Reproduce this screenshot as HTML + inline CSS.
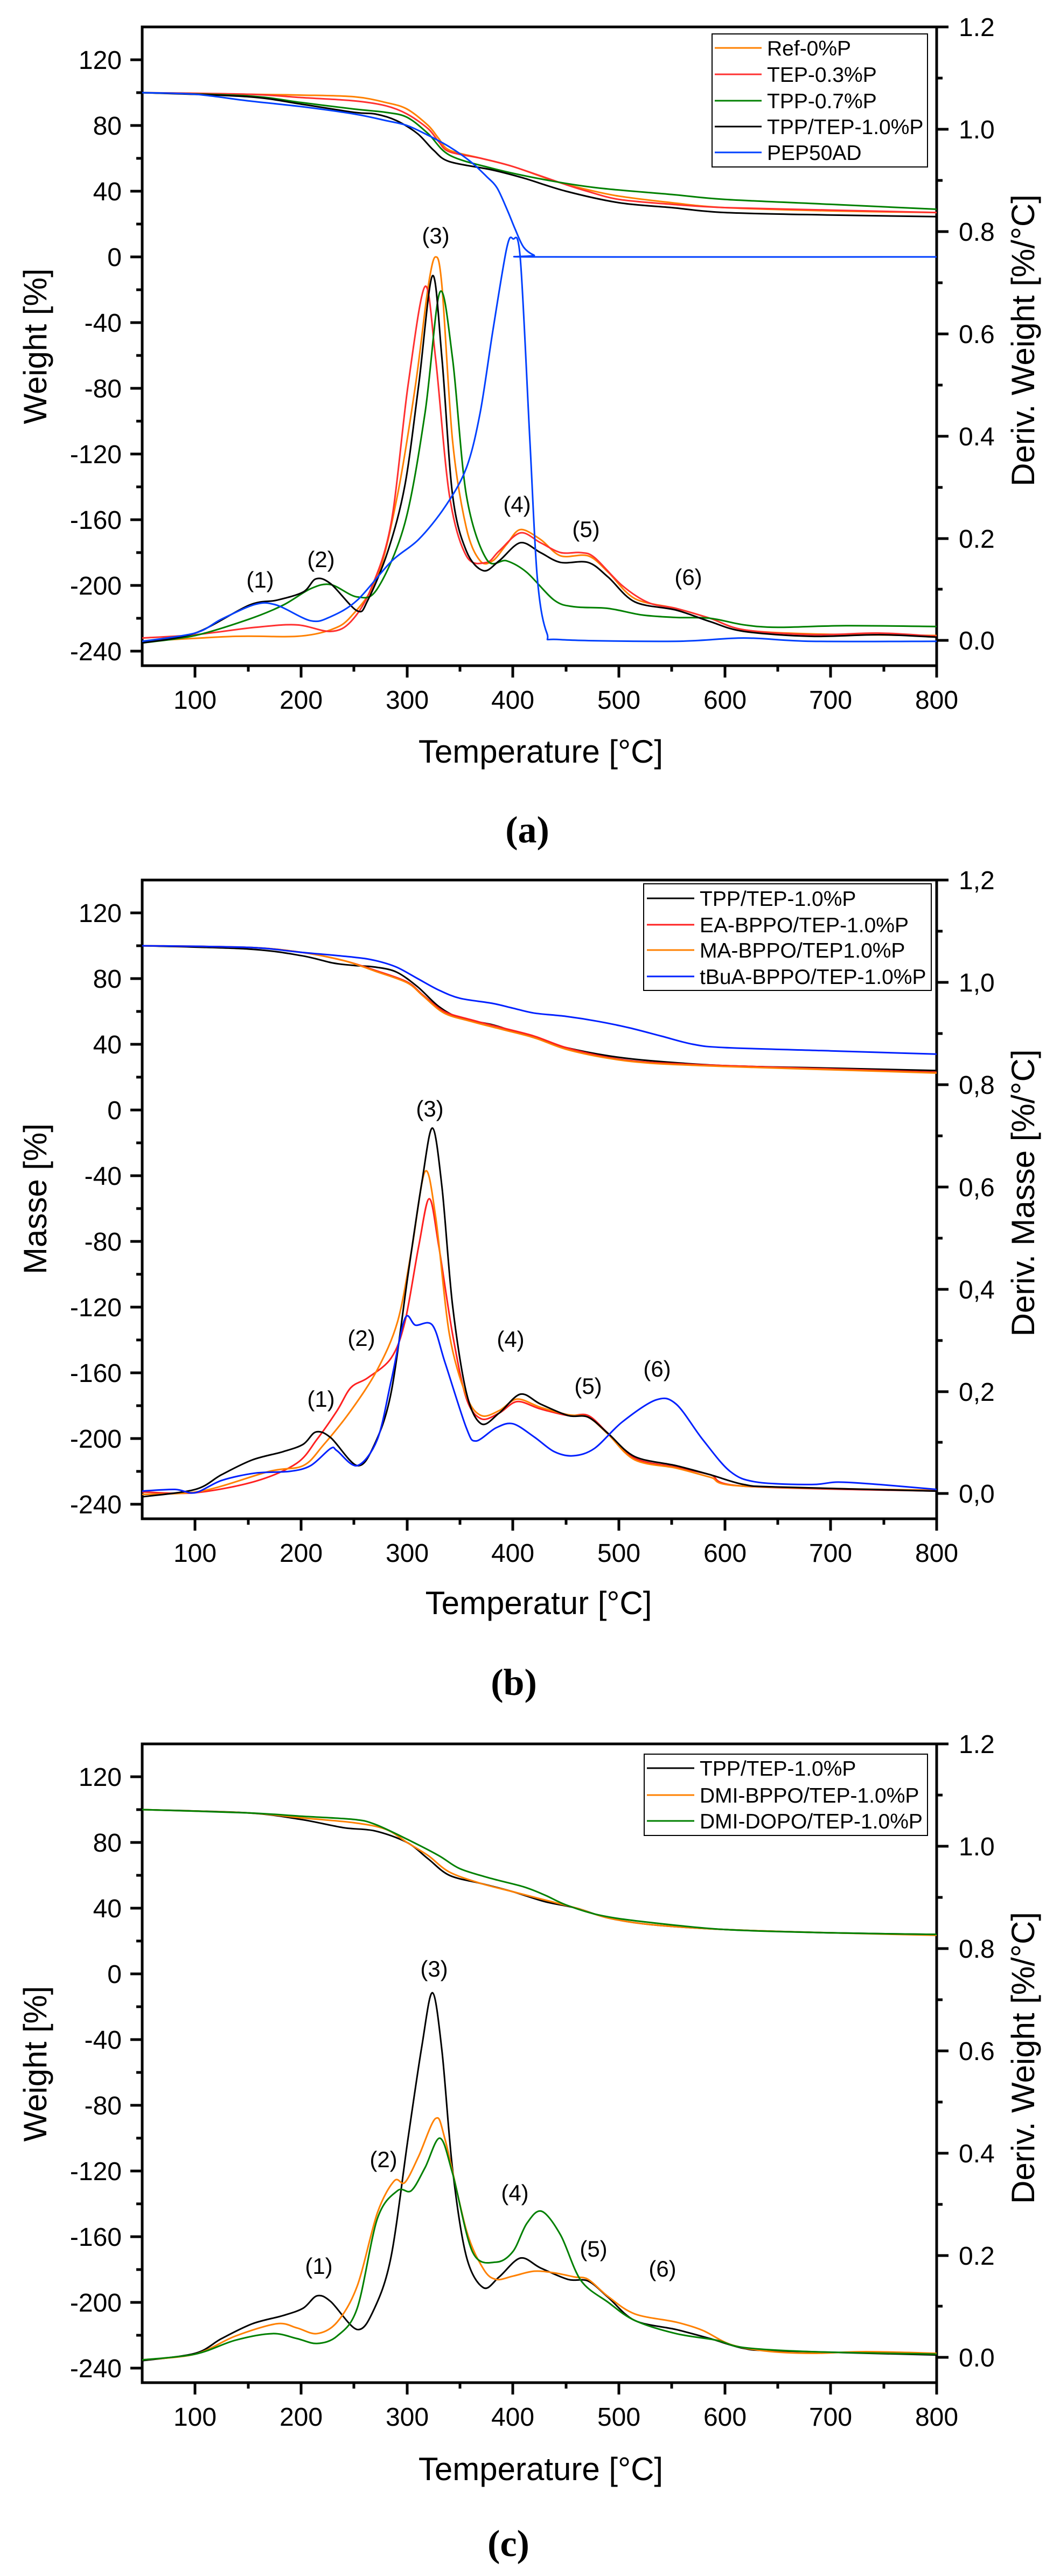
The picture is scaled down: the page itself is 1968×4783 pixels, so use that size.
<!DOCTYPE html>
<html><head><meta charset="utf-8"><style>
html,body{margin:0;padding:0;background:#fff;}
svg{display:block;}
text{font-family:"Liberation Sans",Arial,sans-serif;fill:#000;}
.tl{font-size:48px;}
.ti{font-size:60px;}
.lg{font-size:39px;}
.an{font-size:42px;}
.cap{font-family:"Liberation Serif",serif;font-weight:bold;font-size:70px;}
.d path{fill:none;stroke-width:3;vector-effect:non-scaling-stroke;stroke-linejoin:round;}
</style></head><body>
<svg width="1968" height="4783" viewBox="0 0 1968 4783" xmlns="http://www.w3.org/2000/svg">
<defs>
<clipPath id="cp"><rect x="264" y="50" width="1475" height="1186"/></clipPath>
<g id="axes">
<path d="M264,50 H1739 V1236 H264 Z" fill="none" stroke="#000" stroke-width="5"/>
<path d="M242,111H264M242,233H264M242,355H264M242,477H264M242,599H264M242,721H264M242,843H264M242,965H264M242,1087H264M242,1209H264" stroke="#000" stroke-width="5"/>
<path d="M253,172H264M253,294H264M253,416H264M253,538H264M253,660H264M253,782H264M253,904H264M253,1026H264M253,1148H264" stroke="#000" stroke-width="5"/>
<path d="M1739,50H1761M1739,240H1761M1739,430H1761M1739,620H1761M1739,810H1761M1739,1000H1761M1739,1189H1761" stroke="#000" stroke-width="5"/>
<path d="M1739,145H1750M1739,335H1750M1739,525H1750M1739,715H1750M1739,905H1750M1739,1094H1750" stroke="#000" stroke-width="5"/>
<path d="M362,1236V1258M559,1236V1258M756,1236V1258M952,1236V1258M1149,1236V1258M1346,1236V1258M1542,1236V1258M1739,1236V1258" stroke="#000" stroke-width="5"/>
<path d="M461,1236V1247M657,1236V1247M854,1236V1247M1051,1236V1247M1247,1236V1247M1444,1236V1247M1641,1236V1247" stroke="#000" stroke-width="5"/>
<g class="tl" text-anchor="end">
<text x="226" y="128">120</text><text x="226" y="250">80</text><text x="226" y="372">40</text><text x="226" y="494">0</text><text x="226" y="616">-40</text><text x="226" y="738">-80</text><text x="226" y="860">-120</text><text x="226" y="982">-160</text><text x="226" y="1104">-200</text><text x="226" y="1226">-240</text>
</g>
<g class="tl" text-anchor="middle">
<text x="362" y="1316">100</text><text x="559" y="1316">200</text><text x="756" y="1316">300</text><text x="952" y="1316">400</text><text x="1149" y="1316">500</text><text x="1346" y="1316">600</text><text x="1542" y="1316">700</text><text x="1739" y="1316">800</text>
</g>
</g>
</defs>

<!-- ===== Panel (a) ===== -->
<g>
<use href="#axes"/>
<g class="tl">
<text x="1780" y="67">1.2</text><text x="1780" y="257">1.0</text><text x="1780" y="447">0.8</text><text x="1780" y="637">0.6</text><text x="1780" y="827">0.4</text><text x="1780" y="1017">0.2</text><text x="1780" y="1206">0.0</text>
</g>
<text class="ti" x="1004" y="1416" text-anchor="middle">Temperature [°C]</text>
<text class="ti" transform="translate(86,643) rotate(-90)" text-anchor="middle">Weight [%]</text>
<text class="ti" transform="translate(1920,632) rotate(-90)" text-anchor="middle">Deriv. Weight [%/°C]</text>
<g clip-path="url(#cp)">
<g class="d" transform="matrix(1.9667,0,0,-3.05,165.67,477)">
<path stroke="#ff8000" d="M50,100L150,99L200,98.5L250,97.5L280,94L300,90L320,80L330,72L340,65L370,60L400,55L440,46L470,41L500,37L550,33L600,30L700,28L800,27"/>
<path stroke="#ff3030" d="M50,100L150,99L200,97L250,95L280,92L300,87L320,78L330,70L340,64L370,60L400,55L450,44L470,40L500,35L550,32L600,30L700,28.5L800,27"/>
<path stroke="#008000" d="M50,100L150,98L200,94L250,90L280,88L300,85L320,75L340,62L380,54L430,47L480,42L550,38L600,35L700,32L800,29"/>
<path stroke="#000" d="M50,100L150,97.5L200,93L250,88L270,87L290,83L310,75L325,65L340,58L380,53L410,48L450,40L500,33L550,30L600,27L700,25.5L800,24.5"/>
<path stroke="#0040ff" d="M50,100L100,99L150,95L200,91.5L250,87L280,83L300,80L320,74L340,67L360,58L375,49L385,42L395,28L402,17L410,6L420,1L430,0L800,0"/>
<path stroke="#ff8000" d="M50,-234L138,-231L196,-231L228,-227L247,-219L272,-195L291,-145L308,-78L320,-18L327,0L333,-18L343,-112L356,-165L369,-185L381,-185L394,-175L407,-166L426,-172L445,-182L471,-182L490,-192L515,-208L554,-214L586,-220L618,-227L682,-229.5L800,-230.5"/>
<path stroke="#ff3030" d="M50,-232L100,-230L157,-225.5L196,-224L228,-228L247,-222L266,-202L285,-162L301,-78L317,-18L327,-62L340,-145L356,-182L375,-186L387,-179L407,-168L426,-174L445,-180L464,-180L477,-183L503,-200L528,-210.5L554,-214L586,-220L618,-227L682,-230L746,-229L800,-231"/>
<path stroke="#008000" d="M50,-235L100,-230.5L151,-220.5L183,-212L209,-202L228,-199.5L253,-207L272,-202L298,-162L317,-95L331,-21.5L343,-62L356,-145L375,-184L394,-185L413,-192L439,-209L458,-213L490,-214L522,-218L554,-219.5L586,-220L618,-224L650,-225.5L714,-224.5L800,-225"/>
<path stroke="#000" d="M50,-235L100,-229L151,-212L177,-209L202,-204L214,-196L228,-199L253,-215.5L263,-209L282,-179L298,-139L311,-78L324,-11.5L333,-62L343,-145L356,-179L372,-191L387,-185L407,-174L426,-180L445,-186L471,-186L490,-195L515,-210L554,-215L586,-222L618,-228L682,-231L746,-230L800,-231.5"/>
<path stroke="#0040ff" d="M50,-234L100,-229L125,-220.5L157,-211.5L177,-212L209,-221.5L228,-219L253,-209L285,-185.5L311,-172L336,-152L356,-128.5L369,-95L381,-45L394,5L400,11L407,-1.5L416,-112L423,-195.5L432,-229L445,-233L554,-234L618,-232L682,-234L800,-234"/>
</g>
</g>
<rect x="1322" y="63" width="400" height="247" fill="#fff" stroke="#000" stroke-width="2"/>
<g stroke-width="3">
<line x1="1327" y1="89" x2="1414" y2="89" stroke="#ff8000"/>
<line x1="1327" y1="138" x2="1414" y2="138" stroke="#ff3030"/>
<line x1="1327" y1="187" x2="1414" y2="187" stroke="#008000"/>
<line x1="1327" y1="235" x2="1414" y2="235" stroke="#000"/>
<line x1="1327" y1="283" x2="1414" y2="283" stroke="#0040ff"/>
</g>
<g class="lg"><text x="1424" y="103">Ref-0%P</text><text x="1424" y="152">TEP-0.3%P</text><text x="1424" y="201">TPP-0.7%P</text><text x="1424" y="249">TPP/TEP-1.0%P</text><text x="1424" y="297">PEP50AD</text></g>
<g class="an" text-anchor="middle"><text x="483" y="1091">(1)</text><text x="596" y="1053">(2)</text><text x="809" y="452">(3)</text><text x="960" y="951">(4)</text><text x="1088" y="997">(5)</text><text x="1278" y="1086">(6)</text></g>
<text class="cap" x="979" y="1564" text-anchor="middle">(a)</text>
</g>

<!-- ===== Panel (b) ===== -->
<g transform="translate(0,1584)">
<use href="#axes"/>
<g class="tl">
<text x="1780" y="67">1,2</text><text x="1780" y="257">1,0</text><text x="1780" y="447">0,8</text><text x="1780" y="637">0,6</text><text x="1780" y="827">0,4</text><text x="1780" y="1017">0,2</text><text x="1780" y="1206">0,0</text>
</g>
<text class="ti" x="1000" y="1413" text-anchor="middle">Temperatur [°C]</text>
<text class="ti" transform="translate(86,642) rotate(-90)" text-anchor="middle">Masse [%]</text>
<text class="ti" transform="translate(1920,631) rotate(-90)" text-anchor="middle">Deriv. Masse [%/°C]</text>
<g clip-path="url(#cp)">
<g class="d" transform="matrix(1.9667,0,0,-3.05,165.67,477)">
<path stroke="#000" d="M50,100L150,98L200,94L230,89.5L250,88L270,87L290,84L310,75L330,63L350,56L380,52L400,48L430,42L450,38L490,33L530,30L600,27L700,25.5L800,24"/>
<path stroke="#ff2020" d="M50,100L150,99L200,96L240,91L270,85L300,78L315,70L335,60L360,55L390,50L420,45L450,38L490,32L530,29L600,27L700,25L800,23"/>
<path stroke="#ff8000" d="M50,100L150,99L200,96L240,91L270,84.5L300,77.5L315,69.5L335,59L360,54L390,49L420,44L450,37L490,31.5L530,28.5L600,26.5L700,24.5L800,22.5"/>
<path stroke="#0020ff" d="M50,100L150,99L200,96L250,93L270,91L290,87L310,80L330,73L350,68L380,65L400,62L420,59L450,57L480,54L510,50L540,45L570,40L600,38L700,36L800,34"/>
<path stroke="#ff2020" d="M50,-232.5L100,-233L157,-226L196,-215L215,-200.5L234,-183L247,-169L263,-163L285,-151L298,-129L311,-83L321,-54L330,-83L343,-136.5L356,-175.5L370,-188L387,-184.5L404,-177.5L426,-182L452,-186L471,-186L490,-197L515,-212L554,-217.5L586,-222L618,-229L800,-232"/>
<path stroke="#ff8000" d="M50,-234L106,-232L170,-220L202,-216.5L221,-204L247,-183L272,-158L291,-129L304,-86.5L317,-37.5L327,-65L340,-136.5L356,-174L370,-186L387,-183L404,-176L426,-181L452,-185.5L471,-187L490,-197.5L515,-213L554,-218L586,-223.5L618,-229L800,-231.5"/>
<path stroke="#000" d="M50,-235.5L100,-231L125,-222L154,-213L183,-208L202,-203.5L214,-196L228,-199.5L253,-216.5L269,-204L285,-172L301,-100L314,-44L324,-11L333,-47L343,-119L356,-172L370,-191L387,-184.5L407,-173L426,-179L452,-186L471,-187L490,-197L515,-211L554,-216.5L586,-222L618,-228L650,-229.5L800,-232"/>
<path stroke="#0020ff" d="M50,-232L81,-231L100,-233L125,-225.5L157,-221L189,-220L209,-216.5L228,-206L234,-207.5L253,-216.5L272,-200.5L285,-165L298,-127L308,-131L324,-131L336,-154L356,-193.5L365,-201.5L384,-193.5L400,-191L420,-199L439,-208L457,-210.5L477,-206L503,-190L535,-176.5L554,-179L579,-200.5L605,-220L630,-226.5L682,-228L707,-226.5L746,-228L800,-231"/>
</g>
</g>
<rect x="1195" y="57" width="534" height="198" fill="#fff" stroke="#000" stroke-width="2"/>
<g stroke-width="3">
<line x1="1201" y1="84" x2="1289" y2="84" stroke="#000"/>
<line x1="1201" y1="133" x2="1289" y2="133" stroke="#ff2020"/>
<line x1="1201" y1="180" x2="1289" y2="180" stroke="#ff8000"/>
<line x1="1201" y1="229" x2="1289" y2="229" stroke="#0020ff"/>
</g>
<g class="lg"><text x="1299" y="98">TPP/TEP-1.0%P</text><text x="1299" y="147">EA-BPPO/TEP-1.0%P</text><text x="1299" y="194">MA-BPPO/TEP1.0%P</text><text x="1299" y="243">tBuA-BPPO/TEP-1.0%P</text></g>
<g class="an" text-anchor="middle"><text x="596" y="1028">(1)</text><text x="671" y="915">(2)</text><text x="798" y="489">(3)</text><text x="948" y="917">(4)</text><text x="1092" y="1004">(5)</text><text x="1220" y="972">(6)</text></g>
<text class="cap" x="954" y="1563" text-anchor="middle">(b)</text>
</g>

<!-- ===== Panel (c) ===== -->
<g transform="translate(0,3188)">
<use href="#axes"/>
<g class="tl">
<text x="1780" y="67">1.2</text><text x="1780" y="257">1.0</text><text x="1780" y="447">0.8</text><text x="1780" y="637">0.6</text><text x="1780" y="827">0.4</text><text x="1780" y="1017">0.2</text><text x="1780" y="1206">0.0</text>
</g>
<text class="ti" x="1004" y="1417" text-anchor="middle">Temperature [°C]</text>
<text class="ti" transform="translate(86,644) rotate(-90)" text-anchor="middle">Weight [%]</text>
<text class="ti" transform="translate(1920,633) rotate(-90)" text-anchor="middle">Deriv. Weight [%/°C]</text>
<g clip-path="url(#cp)">
<g class="d" transform="matrix(1.9667,0,0,-3.05,165.67,477)">
<path stroke="#000" d="M50,100L150,98L200,94L240,89L270,87L300,80L320,70L340,60L370,55L400,50L430,44L460,40L490,34L530,30L600,27L700,25L800,24"/>
<path stroke="#ff8000" d="M50,100L150,98L200,95L250,92L280,88L300,80L320,72L340,62L370,55L400,50L430,45L460,40L490,34L530,30L600,27L700,25L800,23.5"/>
<path stroke="#008000" d="M50,100L150,98L200,96L250,94L270,91L300,82L330,72L350,64L380,58L410,53L430,48L450,42L480,36L520,32L600,27L700,25L800,24"/>
<path stroke="#000" d="M50,-235.5L100,-231L125,-222L154,-213L183,-208L202,-203.5L215,-196L228,-199.5L253,-216.5L269,-204L285,-172L301,-100L314,-44L324,-11.5L333,-47L343,-119L356,-172L372,-191L387,-184.5L407,-173L426,-179L452,-186L471,-187L490,-197L515,-211L554,-216.5L586,-222L618,-228L650,-229.5L800,-232"/>
<path stroke="#ff8000" d="M50,-235L100,-231.5L138,-220.5L177,-213L196,-215.5L215,-219L234,-212L253,-190L272,-145.5L288,-126L298,-127L311,-111L327,-88L336,-101L356,-156L372,-179.5L384,-186L400,-184L420,-181L439,-182L458,-184.5L471,-186L490,-196.5L515,-207L554,-212L579,-217L605,-225.5L637,-229.5L682,-231L733,-230L800,-231"/>
<path stroke="#008000" d="M50,-235L100,-231.5L138,-223L173,-219L196,-222L215,-225L234,-220.5L253,-203.5L272,-149L291,-132L304,-132L317,-118L331,-100L343,-121.5L362,-169.5L384,-175.5L400,-169L413,-152L427,-144.5L445,-159L464,-186.5L490,-200L515,-211L554,-219L592,-223L618,-227.5L682,-230L800,-231.5"/>
</g>
</g>
<rect x="1196" y="69" width="526" height="151" fill="#fff" stroke="#000" stroke-width="2"/>
<g stroke-width="3">
<line x1="1201" y1="95" x2="1289" y2="95" stroke="#000"/>
<line x1="1201" y1="145" x2="1289" y2="145" stroke="#ff8000"/>
<line x1="1201" y1="193" x2="1289" y2="193" stroke="#008000"/>
</g>
<g class="lg"><text x="1299" y="109">TPP/TEP-1.0%P</text><text x="1299" y="159">DMI-BPPO/TEP-1.0%P</text><text x="1299" y="207">DMI-DOPO/TEP-1.0%P</text></g>
<g class="an" text-anchor="middle"><text x="592" y="1034">(1)</text><text x="712" y="836">(2)</text><text x="806" y="482">(3)</text><text x="956" y="898">(4)</text><text x="1102" y="1002">(5)</text><text x="1230" y="1039">(6)</text></g>
<text class="cap" x="944" y="1558" text-anchor="middle">(c)</text>
</g>
</svg>
<script>
(function(){
  var ps=document.querySelectorAll('.d path');
  for(var i=0;i<ps.length;i++){
    var d=ps[i].getAttribute('d');
    var nums=d.replace(/[ML]/g,' ').trim().split(/[\s,]+/).map(Number);
    var pts=[];
    for(var j=0;j+1<nums.length;j+=2)pts.push([nums[j],nums[j+1]]);
    if(pts.length<3)continue;
    var s='M'+pts[0][0]+','+pts[0][1];
    for(var k=0;k<pts.length-1;k++){
      var p0=pts[k>0?k-1:k],p1=pts[k],p2=pts[k+1],p3=pts[k+2<pts.length?k+2:k+1];
      var t=0.16;
      var c1x=p1[0]+(p2[0]-p0[0])*t,c1y=p1[1]+(p2[1]-p0[1])*t;
      var c2x=p2[0]-(p3[0]-p1[0])*t,c2y=p2[1]-(p3[1]-p1[1])*t;
      s+='C'+c1x.toFixed(2)+','+c1y.toFixed(2)+' '+c2x.toFixed(2)+','+c2y.toFixed(2)+' '+p2[0]+','+p2[1];
    }
    ps[i].setAttribute('d',s);
  }
})();
</script>
</body></html>
